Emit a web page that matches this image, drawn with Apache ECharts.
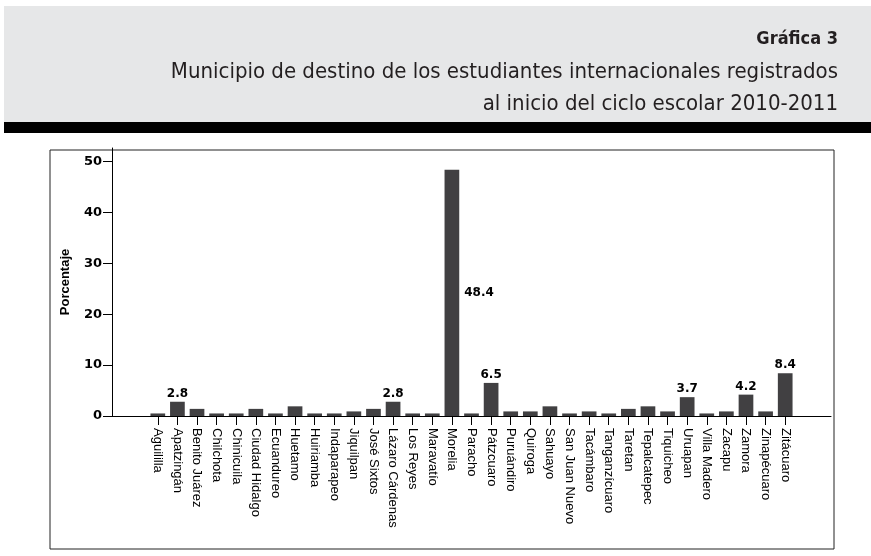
<!DOCTYPE html>
<html>
<head>
<meta charset="utf-8">
<script src="https://cdn.jsdelivr.net/npm/echarts@6/dist/echarts.min.js"></script>
<style>
  html, body { margin: 0; padding: 0; background: #fff; }
  #chart { width: 871px; height: 556px; }
</style>
</head>
<body>
<div id="chart"></div>
<script type="text/javascript">
// municipios (eje x)
var municipios = [
  "Aguililla", "Apatzingán", "Benito Juárez", "Chilchota", "Chinicuila",
  "Ciudad Hidalgo", "Ecuandureo", "Huetamo", "Huiriamba", "Indaparapeo",
  "Jiquilpan", "José Sixtos", "Lázaro Cárdenas", "Los Reyes", "Maravatío",
  "Morelia", "Paracho", "Pátzcuaro", "Puruándiro", "Quiroga", "Sahuayo",
  "San Juan Nuevo", "Tacámbaro", "Tanganzícuaro", "Taretan", "Tepalcatepec",
  "Tiquicheo", "Uruapan", "Villa Madero", "Zacapu", "Zamora", "Zinapécuaro",
  "Zitácuaro"
];
// porcentaje de estudiantes
var porcentaje = [
  0.5, 2.8, 1.4, 0.5, 0.5,
  1.4, 0.5, 1.9, 0.5, 0.5,
  0.9, 1.4, 2.8, 0.5, 0.5,
  48.4, 0.5, 6.5, 0.9, 0.9, 1.9,
  0.5, 0.9, 0.5, 1.4, 1.9,
  0.9, 3.7, 0.5, 0.9, 4.2, 0.9,
  8.4
];
// barras con etiqueta visible
var etiquetados = ["Apatzingán", "Lázaro Cárdenas", "Morelia", "Pátzcuaro", "Uruapan", "Zamora", "Zitácuaro"];
var ticksY = [0, 10, 20, 30, 40, 50];

var titulo = "Gráfica 3";
var subtitulo1 = "Municipio de destino de los estudiantes internacionales registrados";
var subtitulo2 = "al inicio del ciclo escolar 2010-2011";

var chart = echarts.init(document.getElementById("chart"));

var serieData = porcentaje.map(function (v, i) {
  var item = { value: v };
  if (etiquetados.indexOf(municipios[i]) > -1) {
    item.label = { show: true };
    if (municipios[i] === "Morelia") {
      item.label.position = "right";
      item.label.distance = 5;
    }
  }
  return item;
});

var fuenteTitulo = "'Liberation Sans Narrow', 'DejaVu Sans Condensed', sans-serif";

var option = {
  animation: false,
  backgroundColor: "#fff",
  graphic: [
    // banda gris del encabezado
    { type: "rect", left: 4, top: 6, shape: { width: 867, height: 117 }, style: { fill: "#e6e7e8" }, silent: true },
    { type: "rect", left: 4, top: 122, shape: { width: 867, height: 11 }, style: { fill: "#000" }, silent: true },
    { type: "text", right: 33, top: 30, style: { text: titulo, fill: "#231f20", font: "bold 18px " + fuenteTitulo } },
    { type: "text", right: 33, top: 61, style: { text: subtitulo1, fill: "#231f20", font: "22px " + fuenteTitulo } },
    { type: "text", right: 33, top: 93, style: { text: subtitulo2, fill: "#231f20", font: "22px " + fuenteTitulo } },
    // marco del grafico
    { type: "rect", left: 47.5, top: 147.5, z: -1, shape: { width: 784, height: 399 }, style: { fill: "none", stroke: "#222", lineWidth: 1 }, silent: true }
  ],
  grid: [
    { left: 112, right: 40, top: 148, bottom: 140 },
    { left: 148, right: 76, top: 148, bottom: 140 }
  ],
  xAxis: [
    {
      gridIndex: 0,
      type: "value",
      min: 0,
      max: 1,
      axisLine: { show: true, lineStyle: { color: "#000", width: 1 } },
      axisTick: { show: false },
      axisLabel: { show: false },
      splitLine: { show: false }
    },
    {
      gridIndex: 1,
      type: "category",
      data: municipios,
      axisLine: { show: true, lineStyle: { color: "#000", width: 1 } },
      axisTick: { show: true, alignWithLabel: true, length: 9, lineStyle: { color: "#000" } },
      axisLabel: {
        interval: 0,
        rotate: -90,
        margin: 12,
        color: "#000",
        fontSize: 13,
        fontFamily: "'Liberation Sans', Arial, sans-serif"
      },
      splitLine: { show: false }
    }
  ],
  yAxis: [
    {
      gridIndex: 0,
      type: "value",
      min: 0,
      max: 52.65,
      name: "Porcentaje",
      nameLocation: "middle",
      nameGap: 40,
      nameTextStyle: { color: "#000", fontWeight: "bold", fontSize: 13, fontFamily: "'Liberation Sans', Arial, sans-serif" },
      axisLine: { show: true, lineStyle: { color: "#000", width: 1 } },
      axisTick: { show: true, length: 9, customValues: ticksY, lineStyle: { color: "#000" } },
      axisLabel: {
        customValues: ticksY,
        margin: 10,
        color: "#000",
        fontWeight: "bold",
        fontSize: 13,
        fontFamily: "'DejaVu Sans', sans-serif"
      },
      splitLine: { show: false }
    },
    {
      gridIndex: 1,
      type: "value",
      min: 0,
      max: 52.65,
      show: false,
      splitLine: { show: false }
    }
  ],
  series: [
    {
      type: "bar",
      xAxisIndex: 1,
      yAxisIndex: 1,
      data: serieData,
      barCategoryGap: "25%",
      itemStyle: { color: "#414042" },
      label: {
        show: false,
        position: "top",
        distance: 2,
        color: "#000",
        fontWeight: "bold",
        fontSize: 12,
        fontFamily: "'DejaVu Sans', sans-serif"
      }
    }
  ]
};

chart.setOption(option);
</script>
</body>
</html>
